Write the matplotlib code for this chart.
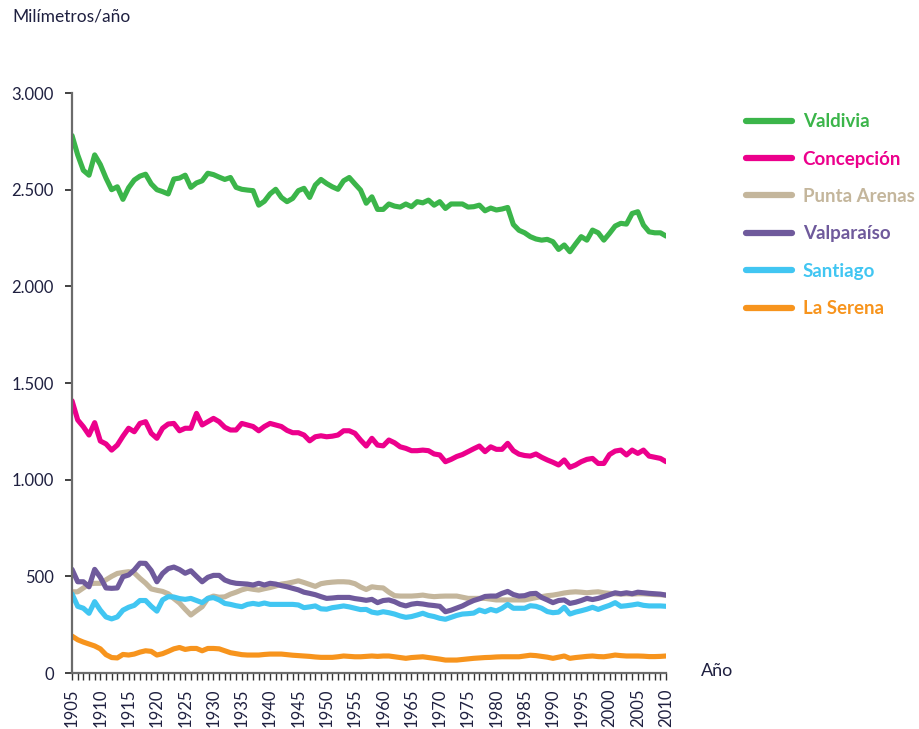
import numpy as np
import matplotlib.pyplot as plt
from matplotlib.ticker import FuncFormatter

# Precipitación anual (mm/año), media móvil por ciudad, 1905-2010
years = np.arange(1905, 2011)

valdivia = [2780, 2680, 2600, 2575, 2680, 2630, 2560, 2500, 2515, 2450,
            2510, 2550, 2570, 2580, 2530, 2500, 2490, 2478, 2555, 2560,
            2575, 2512, 2535, 2546, 2585, 2578, 2565, 2553, 2563, 2512,
            2502, 2498, 2495, 2420, 2440, 2478, 2502, 2460, 2438, 2455,
            2495, 2507, 2460, 2524, 2553, 2532, 2515, 2502, 2546, 2563,
            2530, 2498, 2430, 2463, 2398, 2398, 2426, 2415, 2410, 2426,
            2412, 2438, 2432, 2446, 2420, 2438, 2403, 2426, 2426, 2426,
            2410, 2412, 2420, 2391, 2405, 2395, 2400, 2408, 2320, 2290,
            2277, 2257, 2245, 2239, 2243, 2231, 2191, 2214, 2179, 2219,
            2257, 2239, 2291, 2277, 2239, 2274, 2312, 2326, 2322, 2377,
            2386, 2317, 2282, 2277, 2277, 2260]

concepcion = [1408, 1309, 1274, 1231, 1295, 1200, 1185, 1153, 1179, 1225,
              1266, 1248, 1291, 1300, 1240, 1214, 1266, 1288, 1291, 1253,
              1266, 1266, 1343, 1283, 1300, 1317, 1300, 1271, 1257, 1257,
              1291, 1283, 1275, 1253, 1275, 1291, 1283, 1275, 1255, 1243,
              1243, 1231, 1201, 1222, 1227, 1222, 1225, 1231, 1253, 1253,
              1240, 1205, 1174, 1214, 1179, 1175, 1205, 1191, 1170, 1162,
              1150, 1150, 1153, 1150, 1133, 1128, 1093, 1105, 1120, 1130,
              1145, 1160, 1174, 1145, 1170, 1157, 1157, 1188, 1150, 1132,
              1125, 1122, 1133, 1116, 1102, 1090, 1076, 1102, 1064, 1076,
              1093, 1105, 1110, 1084, 1084, 1130, 1148, 1153, 1128, 1153,
              1136, 1153, 1122, 1116, 1110, 1093]

punta_arenas = [420, 420, 440, 460, 464, 464, 482, 500, 515, 520,
                524, 518, 490, 465, 435, 428, 422, 410, 385, 362,
                330, 300, 322, 343, 386, 398, 392, 394, 408, 418,
                430, 438, 433, 429, 436, 442, 450, 460, 464, 470,
                477, 468, 458, 448, 462, 467, 470, 472, 472, 470,
                462, 445, 432, 446, 442, 440, 418, 400, 398, 398,
                398, 400, 403, 398, 395, 397, 398, 398, 398, 392,
                386, 386, 386, 386, 382, 378, 378, 378, 378, 378,
                378, 384, 390, 395, 400, 403, 408, 414, 418, 420,
                418, 415, 418, 420, 415, 412, 410, 408, 410, 408,
                410, 410, 408, 406, 405, 402]

valparaiso = [536, 472, 472, 446, 536, 495, 440, 438, 440, 498,
              507, 533, 568, 567, 530, 472, 515, 540, 548, 535,
              516, 529, 500, 472, 495, 505, 505, 481, 470, 464,
              462, 460, 455, 464, 455, 464, 460, 452, 446, 438,
              430, 418, 412, 405, 395, 386, 388, 391, 391, 391,
              385, 381, 376, 381, 364, 375, 378, 369, 355, 347,
              356, 360, 357, 352, 349, 345, 317, 325, 336, 347,
              362, 375, 384, 396, 398, 398, 412, 422, 406, 398,
              400, 410, 412, 391, 378, 364, 375, 378, 360, 366,
              375, 386, 380, 386, 395, 405, 415, 410, 415, 410,
              418, 415, 412, 410, 408, 403]

santiago = [409, 345, 335, 309, 369, 325, 290, 280, 290, 325,
            340, 350, 375, 375, 345, 320, 378, 395, 393, 385,
            381, 386, 375, 364, 386, 390, 378, 360, 355, 348,
            343, 355, 360, 355, 362, 355, 355, 355, 355, 355,
            352, 338, 342, 347, 332, 330, 338, 342, 347, 342,
            335, 328, 329, 315, 310, 317, 312, 305, 295, 288,
            292, 300, 309, 298, 292, 283, 278, 288, 298, 305,
            307, 310, 326, 317, 329, 321, 335, 355, 335, 335,
            335, 348, 345, 335, 318, 312, 315, 340, 305, 315,
            322, 330, 340, 329, 340, 350, 364, 345, 348, 352,
            357, 350, 347, 347, 347, 345]

la_serena = [191, 172, 160, 150, 140, 125, 95, 80, 78, 96,
             93, 98, 108, 115, 112, 93, 100, 112, 125, 132,
             122, 127, 127, 115, 127, 127, 125, 115, 105, 100,
             95, 93, 93, 93, 96, 98, 98, 98, 95, 92,
             90, 88, 86, 83, 81, 81, 81, 84, 88, 86,
             84, 84, 86, 88, 86, 88, 88, 84, 80, 76,
             80, 82, 84, 80, 76, 72, 67, 67, 67, 70,
             73, 76, 78, 80, 81, 83, 84, 84, 84, 84,
             88, 92, 90, 86, 82, 76, 82, 88, 76, 80,
             83, 86, 88, 85, 84, 88, 93, 90, 88, 88,
             88, 87, 85, 85, 86, 88]

series = [
    ('Valdivia', valdivia, '#3bb54a'),
    ('Concepción', concepcion, '#ec008c'),
    ('Punta Arenas', punta_arenas, '#c4b69c'),
    ('Valparaíso', valparaiso, '#6f5a9c'),
    ('Santiago', santiago, '#41c6f2'),
    ('La Serena', la_serena, '#f7941d'),
]

plt.rcParams['font.family'] = ['Lato', 'DejaVu Sans']
text_color = '#1f2040'
axis_color = '#6b6b6b'

fig = plt.figure(figsize=(9.2, 7.29), dpi=100)
ax = fig.add_axes([0.0783, 0.0768, 0.6457, 0.7956])

for name, vals, col in series:
    ax.plot(years, vals, color=col, lw=3.7, label=name,
            solid_capstyle='round', solid_joinstyle='round')

ax.set_xlim(1905, 2010)
ax.set_ylim(0, 3000)

ax.set_yticks(np.arange(0, 3001, 500))
ax.yaxis.set_major_formatter(FuncFormatter(lambda v, p: f'{int(v):,}'.replace(',', '.')))

ax.set_xticks(years)
ax.set_xticklabels([str(y) if y % 5 == 0 else '' for y in years], rotation=90)

for s in ['top', 'right']:
    ax.spines[s].set_visible(False)
for s in ['left', 'bottom']:
    ax.spines[s].set_color(axis_color)
    ax.spines[s].set_linewidth(1.6)

ax.tick_params(axis='y', direction='out', length=5, width=1.3, color='#333333',
               pad=8, labelsize=12, labelcolor=text_color)
ax.tick_params(axis='x', direction='out', length=5, width=1.0, color='#333333',
               pad=6, labelsize=12, labelcolor=text_color)

fig.text(0.013, 0.977, 'Milímetros/año', fontsize=12.5, color=text_color, va='center', ha='left')
fig.text(0.762, 0.079, 'Año', fontsize=13, color=text_color, va='center', ha='left')

leg = fig.legend(loc='upper left', bbox_to_anchor=(0.792, 0.868), frameon=False,
                 handlelength=2.5, handletextpad=0.55, labelspacing=1.09,
                 prop={'size': 13.5, 'weight': 'bold'}, labelcolor='linecolor')
for line in leg.get_lines():
    line.set_linewidth(4.5)

fig.savefig('out.png', dpi=100)
